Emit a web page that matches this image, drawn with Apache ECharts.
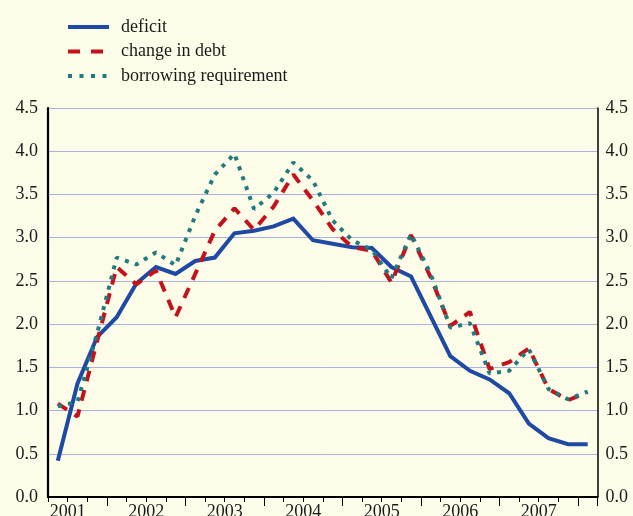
<!DOCTYPE html>
<html>
<head>
<meta charset="utf-8">
<script src="https://cdn.jsdelivr.net/npm/echarts@6/dist/echarts.min.js"></script>
<style>
  html, body { margin: 0; padding: 0; background: #fdfce9; }
  #chart { width: 633px; height: 516px; }
</style>
</head>
<body>
<div id="chart"></div>
<script>
// Quarterly observations, 2001 Q2 to 2008 Q1
const quarters = [
  '2001Q2','2001Q3','2001Q4',
  '2002Q1','2002Q2','2002Q3','2002Q4',
  '2003Q1','2003Q2','2003Q3','2003Q4',
  '2004Q1','2004Q2','2004Q3','2004Q4',
  '2005Q1','2005Q2','2005Q3','2005Q4',
  '2006Q1','2006Q2','2006Q3','2006Q4',
  '2007Q1','2007Q2','2007Q3','2007Q4',
  '2008Q1'
];
const deficit = [0.42, 1.31, 1.85, 2.08, 2.47, 2.66, 2.58, 2.73, 2.77, 3.05, 3.08, 3.13, 3.22, 2.97,
                 2.93, 2.89, 2.88, 2.66, 2.55, 2.09, 1.63, 1.46, 1.36, 1.20, 0.85, 0.68, 0.61, 0.61];
const changeInDebt = [1.08, 0.93, 1.80, 2.66, 2.46, 2.62, 2.08, 2.58, 3.08, 3.34, 3.09, 3.36, 3.73, 3.43,
                      3.10, 2.89, 2.85, 2.48, 3.03, 2.54, 1.98, 2.14, 1.48, 1.56, 1.72, 1.25, 1.12, 1.21];
const borrowingRequirement = [1.05, 1.10, 1.89, 2.77, 2.69, 2.83, 2.68, 3.25, 3.73, 3.97, 3.33, 3.52, 3.87, 3.66,
                              3.20, 2.97, 2.86, 2.53, 3.04, 2.58, 1.96, 2.01, 1.43, 1.46, 1.71, 1.25, 1.13, 1.22];
const yearLabels = ['2001', '2002', '2003', '2004', '2005', '2006', '2007'];
const seriesNames = ['deficit', 'change in debt', 'borrowing requirement'];

const FONT = '"Liberation Serif", "Times New Roman", serif';
const TEXT_COLOR = '#1a1a1a';
const BLUE = '#1f4aa3';
const RED = '#c4121b';
const TEAL = '#1f7b80';

const chart = echarts.init(document.getElementById('chart'), null, { renderer: 'canvas' });

const yAxisBase = {
  type: 'value',
  min: 0,
  max: 4.5,
  interval: 0.5,
  axisTick: { show: false },
  axisLabel: {
    fontFamily: FONT,
    fontSize: 18,
    color: TEXT_COLOR,
    formatter: v => v.toFixed(1)
  }
};

chart.setOption({
  backgroundColor: '#fdfce9',
  animation: false,
  legend: {
    orient: 'vertical',
    left: 61,
    top: 13,
    itemWidth: 41,
    itemHeight: 14,
    itemGap: 6.5,
    itemStyle: { opacity: 0 },
    textStyle: { fontFamily: FONT, fontSize: 18, color: TEXT_COLOR, padding: [0, 0, 0, 7] },
    data: [
      { name: seriesNames[0], lineStyle: { width: 4, color: BLUE } },
      { name: seriesNames[1], lineStyle: { width: 4, color: RED, type: [12, 11], cap: 'butt' } },
      { name: seriesNames[2], lineStyle: { width: 4, color: TEAL, type: [4, 7.5], cap: 'butt' } }
    ]
  },
  grid: { left: 48, right: 35.5, top: 108, bottom: 19, containLabel: false, outerBoundsMode: 'none' },
  xAxis: [
    {
      // quarter boundaries with short ticks; year labels sit mid-year
      type: 'value',
      min: 0,
      max: quarters.length,
      interval: 1,
      position: 'bottom',
      axisLine: { show: true, lineStyle: { color: '#000', width: 2 } },
      axisTick: { show: true, length: 5, lineStyle: { color: '#000', width: 1 } },
      splitLine: { show: false },
      axisLabel: {
        margin: 6,
        fontFamily: FONT,
        fontSize: 18,
        color: TEXT_COLOR,
        showMinLabel: true,
        showMaxLabel: true,
        formatter: v => ((v - 1) % 4 === 0 ? (yearLabels[(v - 1) / 4] || '') : '')
      }
    },
    {
      // quarterly category axis the series are plotted on; longer ticks at year ends
      type: 'category',
      data: quarters,
      boundaryGap: true,
      position: 'bottom',
      axisLine: { show: false },
      axisTick: {
        show: true,
        length: 9,
        interval: (index) => index % 4 === 3,
        lineStyle: { color: '#000', width: 1 }
      },
      axisLabel: { show: false },
      splitLine: { show: false }
    }
  ],
  yAxis: [
    Object.assign({}, yAxisBase, {
      position: 'left',
      axisLine: { show: true, lineStyle: { color: '#000', width: 2.2 } },
      axisLabel: Object.assign({}, yAxisBase.axisLabel, { margin: 10 }),
      splitLine: { show: true, lineStyle: { color: '#a9b3e3', width: 1 } }
    }),
    Object.assign({}, yAxisBase, {
      position: 'right',
      axisLine: { show: true, lineStyle: { color: '#000', width: 1.5 } },
      axisLabel: Object.assign({}, yAxisBase.axisLabel, { margin: 8 }),
      splitLine: { show: false }
    })
  ],
  series: [
    {
      name: seriesNames[0],
      type: 'line',
      xAxisIndex: 1,
      yAxisIndex: 0,
      data: deficit,
      showSymbol: false,
      symbol: 'circle',
      color: BLUE,
      lineStyle: { color: BLUE, width: 4, join: 'miter' }
    },
    {
      name: seriesNames[1],
      type: 'line',
      xAxisIndex: 1,
      yAxisIndex: 0,
      data: changeInDebt,
      showSymbol: false,
      symbol: 'circle',
      color: RED,
      lineStyle: { color: RED, width: 4, type: [11, 9], cap: 'butt' }
    },
    {
      name: seriesNames[2],
      type: 'line',
      xAxisIndex: 1,
      yAxisIndex: 0,
      data: borrowingRequirement,
      showSymbol: false,
      symbol: 'circle',
      color: TEAL,
      lineStyle: { color: TEAL, width: 4, type: [4, 6.5], cap: 'butt' }
    }
  ]
});
</script>
</body>
</html>
